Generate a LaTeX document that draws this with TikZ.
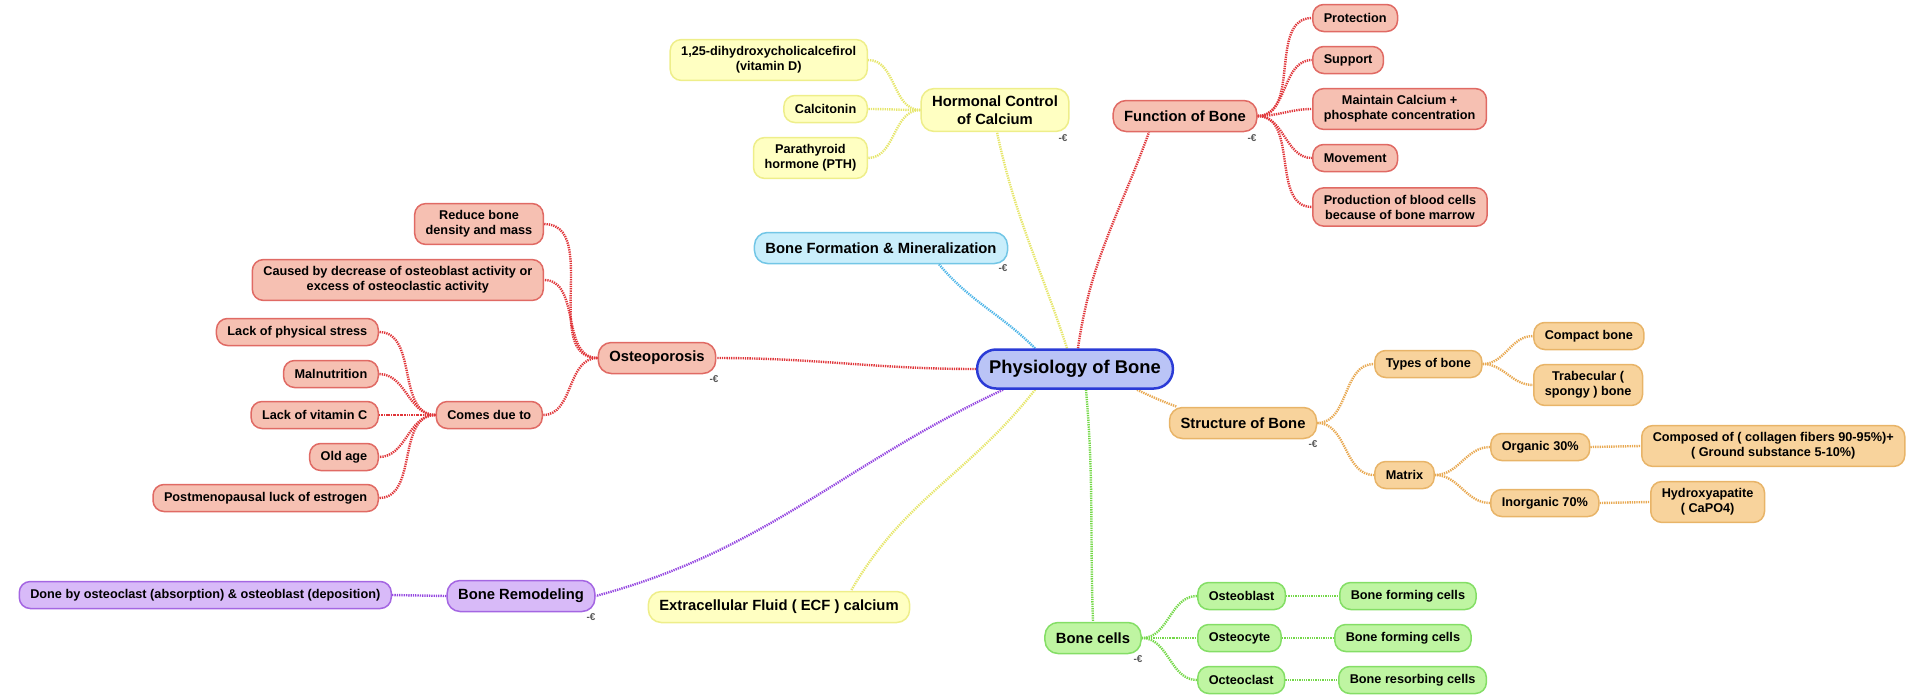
\documentclass[tikz,border=0pt]{standalone}
\usepackage{fontspec}
\setmainfont{Liberation Sans}
\usetikzlibrary{backgrounds}

\definecolor{centfill}{HTML}{BAC4F6}
\definecolor{centdraw}{HTML}{2B3BD6}
\definecolor{redfill}{HTML}{F6C0B2}
\definecolor{reddraw}{HTML}{E06A64}
\definecolor{redline}{HTML}{E0363A}
\definecolor{yelfill}{HTML}{FFFFC2}
\definecolor{yeldraw}{HTML}{EEEE8A}
\definecolor{yelline}{HTML}{E6E66A}
\definecolor{bluefill}{HTML}{C9EEFB}
\definecolor{bluedraw}{HTML}{72C6E6}
\definecolor{blueline}{HTML}{4FB6E8}
\definecolor{orfill}{HTML}{F8D39C}
\definecolor{ordraw}{HTML}{E8B468}
\definecolor{orline}{HTML}{E8A850}
\definecolor{grfill}{HTML}{BFF5A2}
\definecolor{grdraw}{HTML}{84DE66}
\definecolor{grline}{HTML}{74D848}
\definecolor{pufill}{HTML}{D8BAF8}
\definecolor{pudraw}{HTML}{A466E2}
\definecolor{puline}{HTML}{9446E0}

\tikzset{
  topic/.style={draw, line width=1.5pt, rounded corners=11pt, align=center,
    inner xsep=11pt, inner ysep=7pt, minimum height=27pt,
    font=\fontsize{12.7}{15}\selectfont\bfseries},
  maintopic/.style={topic, rounded corners=13pt, minimum height=31pt,
    font=\fontsize{14.8}{18}\selectfont\bfseries},
  central/.style={draw=centdraw, fill=centfill, line width=2.5pt, rounded corners=19pt,
    inner xsep=12pt, minimum height=39pt, font=\fontsize{18.4}{22}\selectfont\bfseries},
  red/.style={fill=redfill, draw=reddraw},
  yel/.style={fill=yelfill, draw=yeldraw},
  blu/.style={fill=bluefill, draw=bluedraw},
  ora/.style={fill=orfill, draw=ordraw},
  gre/.style={fill=grfill, draw=grdraw},
  pur/.style={fill=pufill, draw=pudraw},
  link/.style={line width=2.4pt, dash pattern=on 1.3pt off 1pt},
  fold/.style={text=black!65, inner sep=0pt, font=\fontsize{10}{10}\selectfont\bfseries}
}

\begin{document}
\begin{tikzpicture}[x=1pt, y=-1pt]
	\useasboundingbox (0,0) rectangle (1907,694);

	% centre
	\node[central] (bone) at (1075,369) {Physiology of Bone};

	% hormonal control
	\node[maintopic, yel] (hcc) at (995,110) {Hormonal Control\\of Calcium};
	\node[topic, yel, anchor=east] (vitd) at (868,60) {1,25-dihydroxycholicalcefirol\\(vitamin D)};
	\node[topic, yel, anchor=east] (calc) at (868,109) {Calcitonin};
	\node[topic, yel, anchor=east] (pth) at (868,158) {Parathyroid\\hormone (PTH)};

	% function
	\node[maintopic, red] (fob) at (1185,116) {Function of Bone};
	\node[topic, red, anchor=west] (prot) at (1312,18) {Protection};
	\node[topic, red, anchor=west] (supp) at (1312,60) {Support};
	\node[topic, red, anchor=west] (maint) at (1312,109) {Maintain Calcium +\\phosphate concentration};
	\node[topic, red, anchor=west] (move) at (1312,158) {Movement};
	\node[topic, red, anchor=west] (prod) at (1312,207) {Production of blood cells\\because of bone marrow};

	\node[maintopic, blu] (bfm) at (881,248) {Bone Formation \& Mineralization};

	% osteoporosis
	\node[maintopic, red] (osteo) at (657,358) {Osteoporosis};
	\node[topic, red, anchor=east] (rbd) at (544,224) {Reduce bone\\density and mass};
	\node[topic, red, anchor=east] (cbd) at (544,280) {Caused by decrease of osteoblast activity or\\excess of osteoclastic activity};
	\node[topic, red, anchor=east] (cdt) at (543,415) {Comes due to};
	\node[topic, red, anchor=east] (lps) at (379,332) {Lack of physical stress};
	\node[topic, red, anchor=east] (maln) at (379,374) {Malnutrition};
	\node[topic, red, anchor=east] (lvc) at (379,415) {Lack of vitamin C};
	\node[topic, red, anchor=east] (old) at (379,457) {Old age};
	\node[topic, red, anchor=east] (pme) at (379,498) {Postmenopausal luck of estrogen};

	% remodeling and ecf
	\node[maintopic, pur] (br) at (521,596) {Bone Remodeling};
	\node[topic, pur, anchor=east] (done) at (392,595) {Done by osteoclast (absorption) \& osteoblast (deposition)};
	\node[maintopic, yel] (ecf) at (779,607) {Extracellular Fluid ( ECF ) calcium};

	% structure
	\node[maintopic, ora] (sob) at (1243,423) {Structure of Bone};
	\node[topic, ora, anchor=west] (types) at (1374,364) {Types of bone};
	\node[topic, ora, anchor=west] (matrix) at (1374,475) {Matrix};
	\node[topic, ora, anchor=west] (compact) at (1533,336) {Compact bone};
	\node[topic, ora, anchor=west] (trab) at (1533,385) {Trabecular (\\spongy ) bone};
	\node[topic, ora, anchor=west] (organic) at (1490,447) {Organic 30\%};
	\node[topic, ora, anchor=west] (inorg) at (1490,503) {Inorganic 70\%};
	\node[topic, ora, anchor=west] (comp) at (1641,446) {Composed of ( collagen fibers 90-95\%)+\\( Ground substance 5-10\%)};
	\node[topic, ora, anchor=west] (hydro) at (1650,502) {Hydroxyapatite\\( CaPO4)};

	% bone cells
	\node[maintopic, gre] (bc) at (1093,638) {Bone cells};
	\node[topic, gre, anchor=west] (oblast) at (1197,596) {Osteoblast};
	\node[topic, gre, anchor=west] (ocyte) at (1197,638) {Osteocyte};
	\node[topic, gre, anchor=west] (oclast) at (1197,680) {Octeoclast};
	\node[topic, gre, anchor=west] (form1) at (1339,596) {Bone forming cells};
	\node[topic, gre, anchor=west] (form2) at (1334,638) {Bone forming cells};
	\node[topic, gre, anchor=west] (resorb) at (1338,680) {Bone resorbing cells};

	% fold marks
	\node[fold] (f1) at (1063,138) {-€};
	\node[fold] (f2) at (1252,138) {-€};
	\node[fold] (f3) at (1003,268) {-€};
	\node[fold] (f4) at (714,379) {-€};
	\node[fold] (f5) at (1313,444) {-€};
	\node[fold] (f6) at (591,617) {-€};
	\node[fold] (f7) at (1138,659) {-€};

	\begin{scope}[on background layer]
	\draw[link, yelline] ([xshift=-8pt]bone.north) to[out=108,in=-78] ([xshift=2pt]hcc.south);
	\draw[link, redline] ([xshift=3pt]bone.north) to[out=82,in=-110] ([xshift=-36pt]fob.south);
	\draw[link, blueline] ([xshift=-40pt]bone.north) to[out=135,in=-50] ([xshift=58pt]bfm.south);
	\draw[link, redline] (bone.west) to[out=180,in=0] (osteo.east);
	\draw[link, puline] ([xshift=-72pt]bone.south) to[out=205,in=15] (br.east);
	\draw[link, yelline] ([xshift=-40pt]bone.south) to[out=-128,in=60] ([xshift=72pt]ecf.north);
	\draw[link, grline] ([xshift=11pt]bone.south) to[out=-85,in=92] (bc.north);
	\draw[link, orline] ([xshift=62pt]bone.south) to[out=-25,in=160] ([xshift=-66pt]sob.north);

	\foreach \c in {vitd,calc,pth}
		\draw[link, yelline] (hcc.west) to[out=180,in=0] (\c.east);
	\foreach \c in {prot,supp,maint,move,prod}
		\draw[link, redline] (fob.east) to[out=0,in=180] (\c.west);
	\foreach \c in {rbd,cbd,cdt}
		\draw[link, redline] (osteo.west) to[out=180,in=0] (\c.east);
	\foreach \c in {lps,maln,lvc,old,pme}
		\draw[link, redline] (cdt.west) to[out=180,in=0] (\c.east);
	\draw[link, puline] (br.west) -- (done.east);
	\foreach \c in {types,matrix}
		\draw[link, orline] (sob.east) to[out=0,in=180] (\c.west);
	\foreach \c in {compact,trab}
		\draw[link, orline] (types.east) to[out=0,in=180] (\c.west);
	\foreach \c in {organic,inorg}
		\draw[link, orline] (matrix.east) to[out=0,in=180] (\c.west);
	\draw[link, orline] (organic.east) -- (comp.west);
	\draw[link, orline] (inorg.east) -- (hydro.west);
	\foreach \c in {oblast,ocyte,oclast}
		\draw[link, grline] (bc.east) to[out=0,in=180] (\c.west);
	\draw[link, grline] (oblast.east) -- (form1.west);
	\draw[link, grline] (ocyte.east) -- (form2.west);
	\draw[link, grline] (oclast.east) -- (resorb.west);
	\end{scope}
\end{tikzpicture}
\end{document}
